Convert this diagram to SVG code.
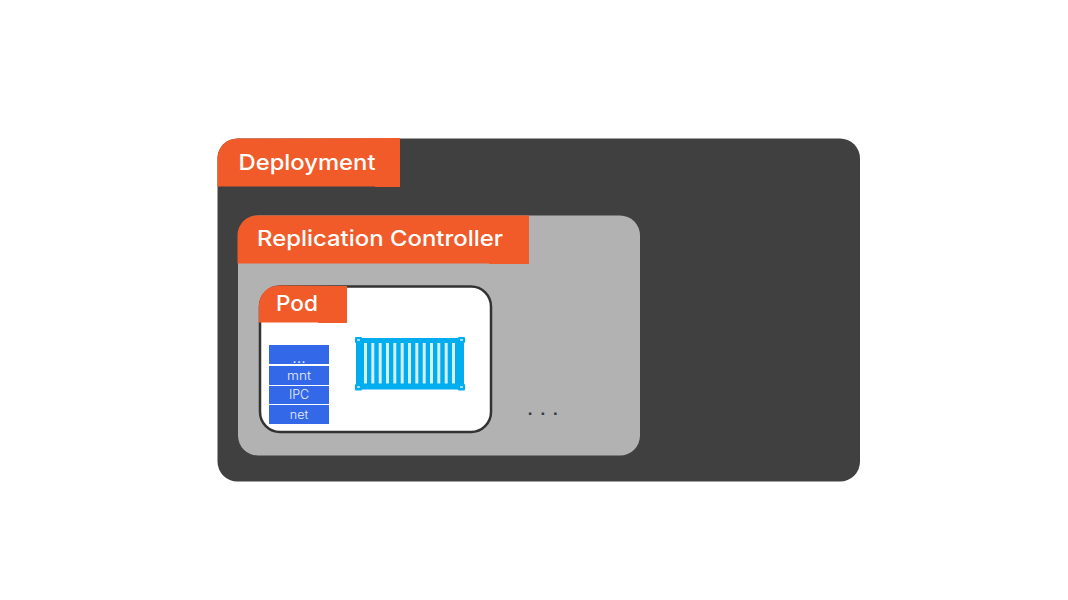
<svg xmlns="http://www.w3.org/2000/svg" width="1068" height="600" viewBox="0 0 1068 600">
<style>
.t{font-family:"Inter","Open Sans","Liberation Sans",sans-serif;font-weight:500;fill:#fff}
.h{fill:#f15b2a}
.ns{fill:#3369e8}
.s{font-size:12.5px;text-anchor:middle;font-weight:300;fill:#eef}
.st{fill:#d5eefa}
.c{fill:#00aeef}
.d{fill:#9fdcf6}
</style>
<rect width="1068" height="600" fill="#fff"/>
<g id="deployment">
<rect x="217.500" y="138.500" width="642.500" height="343" rx="20" fill="#404040"/>
<path class="h" d="M217.500 187V158.500A20 20 0 0 1 237.500 138.500L400 138V187H375V186.500H217.500Z"/>
<text class="t" x="238.500" y="169.800" font-size="22" textLength="137" lengthAdjust="spacingAndGlyphs">Deployment</text>
</g>
<g id="replication-controller">
<rect x="238" y="215.500" width="402" height="240" rx="20" fill="#b2b2b2"/>
<path class="h" d="M237.500 263.500V235.500A20 20 0 0 1 257.500 215.500H529V264H489V263.500Z"/>
<text class="t" x="257" y="246" font-size="22" textLength="246" lengthAdjust="spacingAndGlyphs">Replication Controller</text>
</g>
<g id="pod">
<rect x="260" y="286.500" width="231" height="145.500" rx="20" fill="#fff" stroke="#333" stroke-width="2.500"/>
<path class="h" d="M259 322.500V305.500A20 20 0 0 1 279 285.500L347 286V323H318V322.500Z"/>
<text class="t" x="276" y="311" font-size="22" textLength="42" lengthAdjust="spacingAndGlyphs">Pod</text>
</g>
<g id="namespaces">
<rect class="ns" x="269" y="345" width="60" height="19"/>
<rect class="ns" x="269" y="366" width="60" height="19"/>
<rect class="ns" x="269" y="386" width="60" height="18"/>
<rect class="ns" x="269" y="405" width="60" height="19"/>
<text class="t s" x="299" y="363" style="font-size:16px">...</text>
<text class="t s" x="299" y="380" textLength="24" lengthAdjust="spacingAndGlyphs">mnt</text>
<text class="t s" x="299" y="399">IPC</text>
<text class="t s" x="299" y="419">net</text>
</g>
<g id="container">
<rect x="356" y="338" width="108" height="51.500" fill="#00aeef"/>
<g class="c">
<rect x="355" y="337" width="7" height="6" rx="1"/><rect x="458" y="337" width="7" height="6" rx="1"/>
<rect x="355" y="384" width="7" height="6.500" rx="1"/><rect x="458" y="384" width="7" height="6.500" rx="1"/>
</g>
<g class="d">
<rect x="357" y="339" width="3" height="2"/><rect x="460" y="339" width="3" height="2"/>
<rect x="357" y="386" width="3" height="2"/><rect x="460" y="386" width="3" height="2"/>
</g>
<g class="st">
<rect x="364" y="343" width="3" height="40.500"/><rect x="371.300" y="343" width="3" height="40.500"/>
<rect x="378.700" y="343" width="3" height="40.500"/><rect x="386" y="343" width="3" height="40.500"/>
<rect x="393.300" y="343" width="3" height="40.500"/><rect x="400.700" y="343" width="3" height="40.500"/>
<rect x="408" y="343" width="3" height="40.500"/><rect x="415.300" y="343" width="3" height="40.500"/>
<rect x="422.700" y="343" width="3" height="40.500"/><rect x="430" y="343" width="3" height="40.500"/>
<rect x="437.300" y="343" width="3" height="40.500"/><rect x="444.700" y="343" width="3" height="40.500"/>
<rect x="452" y="343" width="3" height="40.500"/>
</g>
</g>
<g id="ellipsis">
<text x="527.800 540.400 553" y="415" font-family="Liberation Sans,sans-serif" font-size="17" font-weight="700" fill="#33393f">...</text>
</g>
</svg>
